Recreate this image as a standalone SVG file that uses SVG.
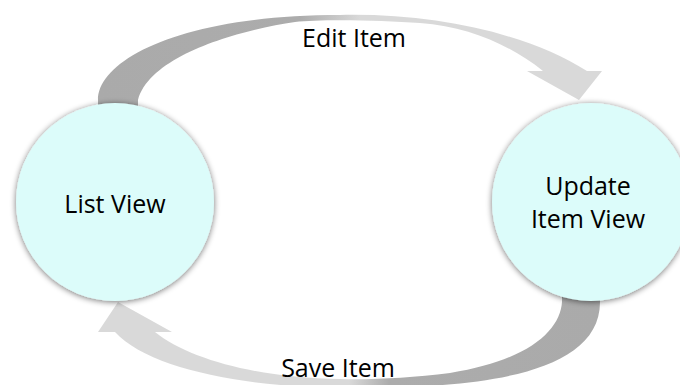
<svg xmlns="http://www.w3.org/2000/svg" width="680" height="385" viewBox="0 0 680 385">
  <style>
    .node { fill: #dcfcfa; filter: url(#shadow); }
    .label { font-family: "Open Sans", "Liberation Sans", sans-serif; font-size: 25px; fill: #000; text-anchor: middle; }
  </style>
  <defs>
    <filter id="shadow" x="-20%" y="-20%" width="140%" height="140%">
      <feGaussianBlur in="SourceAlpha" stdDeviation="3"/>
      <feOffset dx="0" dy="1" result="b"/>
      <feComponentTransfer><feFuncA type="linear" slope="0.55"/></feComponentTransfer>
      <feMerge><feMergeNode/><feMergeNode in="SourceGraphic"/></feMerge>
    </filter>
    <linearGradient id="gTop" gradientUnits="userSpaceOnUse" x1="98" y1="0" x2="602" y2="0">
      <stop offset="0" stop-color="#aaaaaa"/>
      <stop offset="0.4" stop-color="#acacac"/>
      <stop offset="0.52" stop-color="#d9d9d9"/>
      <stop offset="1" stop-color="#d9d9d9"/>
    </linearGradient>
    <linearGradient id="gBot" gradientUnits="userSpaceOnUse" x1="600" y1="0" x2="98" y2="0">
      <stop offset="0" stop-color="#aaaaaa"/>
      <stop offset="0.42" stop-color="#acacac"/>
      <stop offset="0.5" stop-color="#d9d9d9"/>
      <stop offset="1" stop-color="#d9d9d9"/>
    </linearGradient>
  </defs>
  <rect width="680" height="385" fill="#ffffff"/>
  <g id="connectors">
    <g id="edit-item">
      <path fill="url(#gTop)" d="M98,108 L98,100 C98,60 180,15 340,15 C440,13 530,35 587,71 L602,71 L579,100 L527,71 L543,71 C510,45 470,27 420,23 C380,20 320,19 295,22 C240,30 150,55 138,100 L138,108 Z"/>
      <text class="label" x="354" y="47">Edit Item</text>
    </g>
    <g id="save-item">
      <path fill="url(#gBot)" d="M562,294 L562,302 C560,330 530,360 450,373 C410,378 370,380 340,379 C260,378 190,360 155,332 L172,332 L118,302 L98,332 L115,332 C150,370 250,388 350,388 C460,388 600,380 600,302 L600,294 Z"/>
      <text class="label" x="338" y="377">Save Item</text>
    </g>
  </g>
  <g id="list-view">
    <circle class="node" cx="115" cy="202" r="99"/>
    <text class="label" x="115" y="213">List View</text>
  </g>
  <g id="update-item-view">
    <circle class="node" cx="591" cy="202" r="99"/>
    <text class="label" x="588" y="195">Update</text>
    <text class="label" x="588" y="228">Item View</text>
  </g>
</svg>
